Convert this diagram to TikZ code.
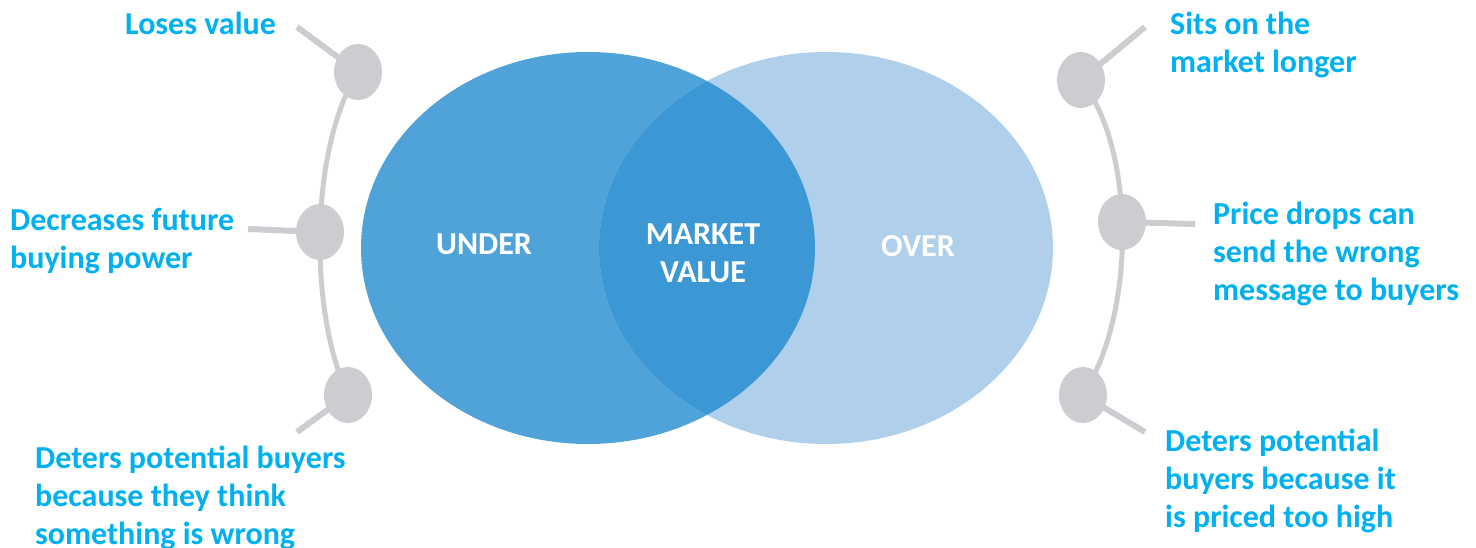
\documentclass[tikz,border=0pt]{standalone}
\usepackage{fontspec}
\setmainfont{Carlito}
\usetikzlibrary{shapes.geometric,backgrounds}
\definecolor{underblue}{RGB}{79,163,217}
\definecolor{overblue}{RGB}{175,207,234}
\definecolor{midblue}{RGB}{59,152,212}
\definecolor{bubblegray}{RGB}{205,204,208}
\definecolor{textcyan}{RGB}{0,176,240}
\begin{document}
\begin{tikzpicture}[x=1pt,y=-1pt,
  bubble/.style={ellipse,fill=bubblegray,minimum width=48pt,minimum height=56pt,inner sep=0pt},
  stem/.style={draw=bubblegray,line width=6pt},
  arcline/.style={draw=bubblegray,line width=5pt},
  venn/.style={ellipse,minimum width=454pt,minimum height=392pt,inner sep=0pt},
  sidetext/.style={font=\fontsize{32}{38}\selectfont\bfseries,text=textcyan,align=left,anchor=north west,inner sep=0pt},
  inlabel/.style={font=\fontsize{32}{38}\selectfont\bfseries,text=white,inner sep=0pt}]
\useasboundingbox (0,0) rectangle (1476,548);
% Venn circles
\node[venn,fill=underblue] (under) at (588,248) {};
\node[venn,fill=overblue] (over) at (826,248) {};
\begin{scope}
  \clip (588,248) ellipse [x radius=227pt, y radius=196pt];
  \fill[midblue] (826,248) ellipse [x radius=227pt, y radius=196pt];
\end{scope}
\node[inlabel,anchor=base] (underlbl) at (484,255) {UNDER};
\node[inlabel,anchor=base] (overlbl) at (918,257) {OVER};
\node[inlabel,anchor=north,align=center] (mvlbl) at (703,218) {\strut MARKET\\VALUE};
% bubbles
\node[bubble] (l1) at (358,72) {};
\node[bubble] (l2) at (320,232) {};
\node[bubble] (l3) at (348,395) {};
\node[bubble] (r1) at (1081,80) {};
\node[bubble] (r2) at (1122,222) {};
\node[bubble] (r3) at (1083,395) {};
\coordinate (l1end) at (297,27);
\coordinate (l2end) at (248,229);
\coordinate (l3end) at (297,432);
\coordinate (r1end) at (1145,27);
\coordinate (r2end) at (1195,224);
\coordinate (r3end) at (1145,432);
\begin{scope}[on background layer]
  \draw[arcline] (l1.center) .. controls (309,150) and (309,313) .. (l3.center);
  \draw[arcline] (r1.center) .. controls (1136,150) and (1136,313) .. (r3.center);
  \draw[stem] (l1.center) -- (l1end);
  \draw[stem] (l2.center) -- (l2end);
  \draw[stem] (l3.center) -- (l3end);
  \draw[stem] (r1.center) -- (r1end);
  \draw[stem] (r2.center) -- (r2end);
  \draw[stem] (r3.center) -- (r3end);
\end{scope}
% side texts
\node[sidetext] (t1) at (125,7.4) {\strut Loses value};
\node[sidetext] (t2) at (10,203.4) {\strut Decreases future\\buying power};
\node[sidetext] (t3) at (35,441.4) {\strut Deters potential buyers\\because they think\\something is wrong};
\node[sidetext] (t4) at (1170,7.4) {\strut Sits on the\\market longer};
\node[sidetext] (t5) at (1213,197.4) {\strut Price drops can\\send the wrong\\message to buyers};
\node[sidetext] (t6) at (1165,424.4) {\strut Deters potential\\buyers because it\\is priced too high};
\end{tikzpicture}
\end{document}
